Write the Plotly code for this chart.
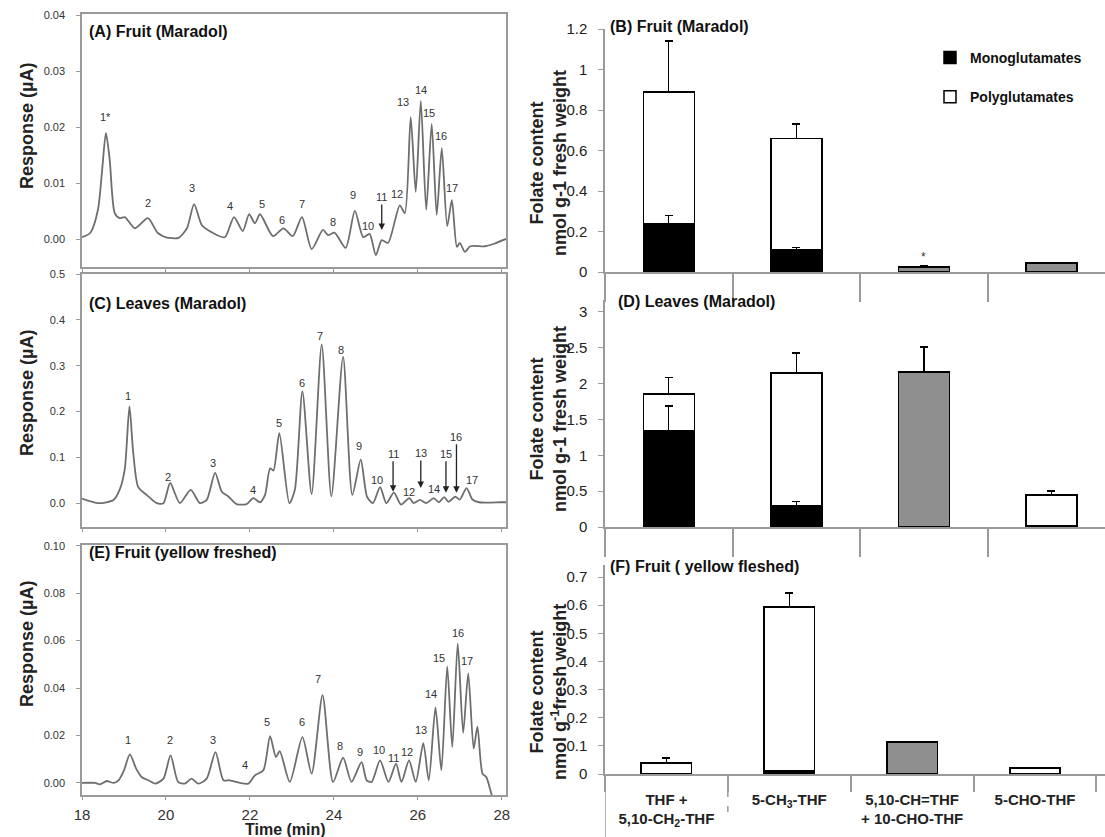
import plotly.graph_objects as go

W, H = 1105, 837
FONT = "Arial, Liberation Sans, sans-serif"

# ---------------- chromatogram traces (time in min, response in µA) ----------------
A_time = [18.0, 18.2, 18.38, 18.48, 18.57, 18.66, 18.78, 18.9, 19.02, 19.26, 19.57, 19.8, 20.0, 20.3,
          20.5, 20.67, 20.85, 21.0, 21.4, 21.62, 21.83, 21.98, 22.12, 22.24, 22.55, 22.8, 23.02, 23.24,
          23.47, 23.74, 23.86, 24.02, 24.28, 24.5, 24.7, 24.85, 25.0, 25.14, 25.29, 25.57, 25.69, 25.83,
          25.95, 26.07, 26.2, 26.33, 26.45, 26.57, 26.7, 26.81, 26.93, 27.0, 27.12, 27.25, 27.6, 27.8, 28.1]
A_resp = [0.0004, 0.0012, 0.0053, 0.0124, 0.0190, 0.0142, 0.0047, 0.0038, 0.0040, 0.0020, 0.0038, 0.0012,
          0.0004, 0.0003, 0.0020, 0.0063, 0.0026, 0.0017, 0.0004, 0.0040, 0.0015, 0.0045, 0.0029, 0.0045,
          0.0006, 0.0020, 0.0006, 0.0040, -0.0017, 0.0017, 0.0008, 0.0012, -0.0015, 0.0051, 0.0004, 0.0010,
          -0.0028, -0.0001, -0.0006, 0.0061, 0.0047, 0.0218, 0.0085, 0.0247, 0.0053, 0.0206, 0.0044, 0.0163,
          0.0024, 0.0070, -0.0013, -0.0006, -0.0022, -0.0012, -0.0012, -0.0008, 0.0001]

C_time = [18.0, 18.39, 18.75, 18.9, 19.02, 19.13, 19.22, 19.34, 19.54, 19.78, 19.94, 20.1, 20.33, 20.59,
          20.81, 20.97, 21.17, 21.33, 21.48, 21.68, 21.92, 22.08, 22.24, 22.36, 22.48, 22.56, 22.7, 22.94,
          23.07, 23.25, 23.47, 23.71, 23.94, 24.22, 24.44, 24.64, 24.79, 24.93, 25.1, 25.25, 25.43, 25.6,
          25.8, 25.9, 26.05, 26.2, 26.38, 26.5, 26.63, 26.73, 26.89, 27.0, 27.16, 27.3, 27.46, 27.98, 28.1]
C_resp = [0.010, 0.0, 0.007, 0.030, 0.075, 0.211, 0.110, 0.035, 0.018, 0.0, 0.0, 0.044, 0.0, 0.029,
          0.0, 0.007, 0.066, 0.025, 0.015, -0.002, -0.002, 0.011, 0.002, 0.018, 0.076, 0.071, 0.153, 0.0,
          0.029, 0.244, 0.020, 0.346, 0.015, 0.319, 0.018, 0.095, 0.014, 0.0, 0.035, 0.0, 0.023, -0.003,
          0.011, 0.0, 0.007, 0.0, 0.011, 0.002, 0.013, 0.003, 0.014, 0.008, 0.033, 0.008, 0.002, 0.002, 0.002]

E_time = [18.0, 18.31, 18.43, 18.59, 18.75, 18.87, 19.0, 19.14, 19.29, 19.42, 19.58, 19.74, 19.94, 20.11,
          20.29, 20.45, 20.61, 20.77, 20.97, 21.18, 21.37, 21.52, 21.76, 21.96, 22.12, 22.32, 22.48, 22.62,
          22.71, 22.95, 23.25, 23.47, 23.73, 23.98, 24.22, 24.42, 24.66, 24.78, 24.9, 25.1, 25.3, 25.48,
          25.61, 25.79, 25.95, 26.13, 26.26, 26.42, 26.56, 26.7, 26.82, 26.95, 27.08, 27.2, 27.33, 27.42,
          27.54, 27.63, 27.75, 27.82]
E_resp = [0.0, 0.0, -0.0006, 0.0008, 0.0, 0.0011, 0.0053, 0.0120, 0.0060, 0.0025, 0.0011, -0.0003, 0.0018,
          0.0116, 0.0004, -0.0003, 0.0018, -0.0003, 0.0018, 0.0130, 0.0011, 0.0011, 0.0, -0.0003, 0.0032,
          0.0053, 0.0197, 0.0109, 0.0134, 0.0004, 0.0193, 0.0039, 0.0370, 0.0004, 0.0106, 0.0004, 0.0088,
          0.0011, 0.0004, 0.0095, 0.0004, 0.0081, 0.0004, 0.0095, 0.0004, 0.0168, 0.0011, 0.0318, 0.0053,
          0.0491, 0.0151, 0.0588, 0.0211, 0.0462, 0.0144, 0.0237, 0.0039, 0.0025, -0.0045, -0.0090]

# peak labels (text, time, response at label centre)
A_lab_txt = ["1*", "2", "3", "4", "5", "6", "7", "8", "9", "10", "12", "13", "14", "15", "16", "17"]
A_lab_t = [18.57, 19.57, 20.62, 21.52, 22.29, 22.76, 23.24, 23.98, 24.45, 24.81, 25.5, 25.64, 26.07, 26.26, 26.55, 26.81]
A_lab_y = [0.0218, 0.0065, 0.0092, 0.0060, 0.0063, 0.0035, 0.0063, 0.0031, 0.0079, 0.0024, 0.0081, 0.0245, 0.0267, 0.0225, 0.0184, 0.0092]
A_arrow_txt = ["11"]
A_arrow_t = [25.14]
A_arrow_y = [0.0017]
A_arrow_len = [33]

C_lab_txt = ["1", "2", "3", "4", "5", "6", "7", "8", "9", "10", "12", "14", "17"]
C_lab_t = [19.1, 20.06, 21.13, 22.08, 22.7, 23.23, 23.68, 24.18, 24.6, 25.02, 25.8, 26.38, 27.3]
C_lab_y = [0.233, 0.058, 0.087, 0.029, 0.175, 0.262, 0.364, 0.335, 0.124, 0.051, 0.025, 0.031, 0.051]
C_arrow_txt = ["11", "13", "15", "16"]
C_arrow_t = [25.41, 26.07, 26.67, 26.92]
C_arrow_y = [0.025, 0.033, 0.023, 0.023]
C_arrow_len = [38, 35, 39, 56]

E_lab_txt = ["1", "2", "3", "4", "5", "6", "7", "8", "9", "10", "11", "12", "13", "14", "15", "16", "17"]
E_lab_t = [19.09, 20.1, 21.13, 21.88, 22.4, 23.23, 23.63, 24.14, 24.63, 25.08, 25.43, 25.75, 26.08, 26.31, 26.51, 26.96, 27.18]
E_lab_y = [0.0179, 0.0179, 0.0179, 0.0074, 0.0256, 0.0256, 0.0437, 0.0154, 0.0130, 0.0140, 0.0106, 0.0130, 0.0223, 0.0374, 0.0528, 0.0632, 0.0514]

# ---------------- folate content bars (nmol g-1 fresh weight) ----------------
categories = ["THF +<br>5,10-CH<sub>2</sub>-THF", "5-CH<sub>3</sub>-THF",
              "5,10-CH=THF<br>+ 10-CHO-THF", "5-CHO-THF"]

B_mono = [0.24, 0.11, None, None]
B_mono_err = [0.04, 0.01, 0, 0]
B_poly = [0.65, 0.55, None, None]
B_poly_err = [0.25, 0.07, 0, 0]
B_other = [None, None, 0.025, 0.045]
B_other_err = [0.004, 0.003, 0.004, 0.003]

D_mono = [1.34, 0.29, None, 0.02]
D_mono_err = [0.35, 0.07, 0, 0]
D_poly = [0.515, 1.86, None, 0.43]
D_poly_err = [0.235, 0.28, 0, 0.05]
D_other = [None, None, 2.16, None]
D_other_err = [0, 0, 0.35, 0]

F_mono = [0.002, 0.01, None, 0.0]
F_mono_err = [0, 0.002, 0, 0]
F_poly = [0.037, 0.584, None, 0.021]
F_poly_err = [0.018, 0.05, 0, 0.003]
F_other = [None, None, 0.114, None]
F_other_err = [0, 0, 0, 0]


def fx(px):
    return px / W


def fy(py):
    return 1 - py / H


fig = go.Figure()
LINE = "#6e6e6e"
AX = "#9a9a9a"

for ax, t, r in [("", A_time, A_resp), ("3", C_time, C_resp), ("5", E_time, E_resp)]:
    fig.add_trace(go.Scatter(x=t, y=r, mode="lines", line=dict(color=LINE, width=1.8, shape="spline", smoothing=0.7),
                             xaxis="x" + ax, yaxis="y" + ax, showlegend=False, hoverinfo="skip"))

cat_idx = [0, 1, 2, 3]
for ax, mono, monoe, poly, polye, oth, othe, wdt, show in [
        ("2", B_mono, B_mono_err, B_poly, B_poly_err, B_other, B_other_err, 0.4, True),
        ("4", D_mono, D_mono_err, D_poly, D_poly_err, D_other, D_other_err, 0.4, False),
        ("6", F_mono, F_mono_err, F_poly, F_poly_err, F_other, F_other_err, 0.41, False)]:
    eb = dict(type="data", symmetric=False, color="#000", thickness=1.4, width=4)
    fig.add_trace(go.Bar(x=cat_idx, y=mono, width=wdt, name="<b>Monoglutamates</b>", legendgroup="m",
                         marker=dict(color="#000", line=dict(color="#000", width=1.5)),
                         error_y=dict(array=monoe, arrayminus=[0] * 4, **eb),
                         xaxis="x" + ax, yaxis="y" + ax, showlegend=show, hoverinfo="skip"))
    fig.add_trace(go.Bar(x=cat_idx, y=poly, width=wdt, name="<b>Polyglutamates</b>", legendgroup="p",
                         marker=dict(color="rgba(255,255,255,0)", line=dict(color="#000", width=1.5)),
                         error_y=dict(array=polye, arrayminus=[0] * 4, **eb),
                         xaxis="x" + ax, yaxis="y" + ax, showlegend=show, hoverinfo="skip"))
    fig.add_trace(go.Bar(x=cat_idx, y=oth, width=wdt, name="other",
                         marker=dict(color="#8f8f8f", line=dict(color="#000", width=1.5)),
                         error_y=dict(array=othe, arrayminus=[0] * 4, **eb),
                         xaxis="x" + ax, yaxis="y" + ax, showlegend=False, hoverinfo="skip"))

left_x = [fx(82), fx(506)]
right_x = [fx(605), 1.0]

tickfont_l = dict(family=FONT, size=11, color="#333")
tickfont_r = dict(family=FONT, size=15, color="#222")


def left_axes(ydom, yr, ytv, yfmt, showx):
    xa = dict(domain=left_x, range=[18, 28.1], tickvals=[18, 20, 22, 24, 26, 28], showticklabels=showx,
              ticks="outside", ticklen=3, tickcolor=AX, showline=True, linecolor=AX, linewidth=1.5,
              mirror=True, showgrid=False, zeroline=False, automargin=False, ticklabelstandoff=2,
              tickfont=dict(family=FONT, size=15, color="#333"))
    ya = dict(domain=ydom, range=yr, tickvals=ytv, tickformat=yfmt, ticks="outside", ticklen=4,
              tickcolor=AX, showline=True, linecolor=AX, linewidth=1.5, mirror=True, showgrid=False,
              zeroline=False, tickfont=tickfont_l, ticklabelstandoff=9, automargin=False)
    return xa, ya


def right_axes(ydom, yr, ytv, xr, minor_len, labels):
    xa = dict(domain=right_x, range=xr, showgrid=False, zeroline=False, showline=True, linecolor=AX,
              linewidth=1.5, ticks="", tickvals=cat_idx, ticktext=["<b>" + c + "</b>" for c in categories],
              showticklabels=labels, automargin=False,
              tickfont=dict(family=FONT, size=15, color="#222"), ticklabelstandoff=11,
              minor=dict(ticks="outside", ticklen=minor_len, tickcolor=AX, tickwidth=1.5, tick0=-0.5, dtick=1))
    ya = dict(domain=ydom, range=yr, tickvals=ytv, ticks="outside", ticklen=5, tickcolor=AX,
              showline=True, linecolor=AX, linewidth=1.5, showgrid=False, zeroline=False, automargin=False,
              tickfont=tickfont_r, ticklabelstandoff=8)
    return xa, ya


xa1, ya1 = left_axes([fy(267), fy(14)], [-0.0049, 0.0402], [0, 0.01, 0.02, 0.03, 0.04], ".2f", False)
xa3, ya3 = left_axes([fy(527), fy(274)], [-0.052, 0.5], [0, 0.1, 0.2, 0.3, 0.4, 0.5], ".1f", False)
xa5, ya5 = left_axes([fy(795), fy(545)], [-0.0051, 0.1003], [0, 0.02, 0.04, 0.06, 0.08, 0.10], ".2f", True)
xa2, ya2 = right_axes([fy(272), fy(29)], [0, 1.2], [0, 0.2, 0.4, 0.6, 0.8, 1, 1.2], [-0.5, 3.42], 28, False)
xa4, ya4 = right_axes([fy(527), fy(300)], [0, 3.167], [0, 0.5, 1, 1.5, 2, 2.5, 3], [-0.5, 3.42], 28, False)
xa6, ya6 = right_axes([fy(774), fy(565)], [0, 0.743], [0, 0.1, 0.2, 0.3, 0.4, 0.5, 0.6, 0.7], [-0.5, 3.57], 16, True)

for i, (xa, ya) in enumerate([(xa1, ya1), (xa2, ya2), (xa3, ya3), (xa4, ya4), (xa5, ya5), (xa6, ya6)], start=1):
    s = "" if i == 1 else str(i)
    xa["anchor"] = "y" + s
    ya["anchor"] = "x" + s
    fig.update_layout(**{"xaxis" + s: xa, "yaxis" + s: ya})

ann = []
lab_font = dict(family=FONT, size=11, color="#333")
for ax, txts, ts, ys in [("", A_lab_txt, A_lab_t, A_lab_y), ("3", C_lab_txt, C_lab_t, C_lab_y),
                         ("5", E_lab_txt, E_lab_t, E_lab_y)]:
    for s, t, y in zip(txts, ts, ys):
        ann.append(dict(x=t, y=y, xref="x" + ax, yref="y" + ax, text=s, showarrow=False, font=lab_font,
                        xanchor="center", yanchor="middle"))
for ax, txts, ts, ys, ls in [("", A_arrow_txt, A_arrow_t, A_arrow_y, A_arrow_len),
                             ("3", C_arrow_txt, C_arrow_t, C_arrow_y, C_arrow_len)]:
    for s, t, y, L in zip(txts, ts, ys, ls):
        ann.append(dict(x=t, y=y, xref="x" + ax, yref="y" + ax, text=s, showarrow=True, ax=0, ay=-L,
                        arrowhead=2, arrowsize=1, arrowwidth=1.3, arrowcolor="#222", font=lab_font))

title_font = dict(family=FONT, size=16, color="#111")
for txt, px, py in [("<b>(A) Fruit (Maradol)</b>", 87, 32), ("<b>(C) Leaves (Maradol)</b>", 87, 303),
                    ("<b>(E) Fruit (yellow freshed)</b>", 87, 552), ("<b>(B) Fruit (Maradol)</b>", 608, 26),
                    ("<b>(D) Leaves (Maradol)</b>", 616, 302), ("<b>(F) Fruit ( yellow fleshed)</b>", 608, 566)]:
    ann.append(dict(x=fx(px), y=fy(py), xref="paper", yref="paper", text=txt, showarrow=False,
                    xanchor="left", yanchor="middle", font=title_font))

for py in [126, 393, 644]:
    ann.append(dict(x=fx(27), y=fy(py), xref="paper", yref="paper", text="<b>Response (µA)</b>",
                    showarrow=False, textangle=-90, xanchor="center", yanchor="middle",
                    font=dict(family=FONT, size=18, color="#222")))

for txt, py in [("<b>Folate content<br>nmol g-1 fresh weight</b>", 163),
                ("<b>Folate content<br>nmol g-1 fresh weight</b>", 419),
                ("<b>Folate content<br>nmol g<sup>-1</sup>fresh weight</b>", 692)]:
    ann.append(dict(x=fx(548), y=fy(py), xref="paper", yref="paper", text=txt, showarrow=False,
                    textangle=-90, xanchor="center", yanchor="middle",
                    font=dict(family=FONT, size=18, color="#222")))

ann.append(dict(x=fx(285), y=fy(829), xref="paper", yref="paper", text="<b>Time (min)</b>", showarrow=False,
                xanchor="center", yanchor="middle", font=dict(family=FONT, size=16, color="#222")))
ann.append(dict(x=2, y=0.075, xref="x2", yref="y2", text="*", showarrow=False,
                font=dict(family=FONT, size=12, color="#333")))

shapes = [
    dict(type="line", xref="x6", yref="paper", x0=-0.5, x1=-0.5, y0=fy(774), y1=0, line=dict(color=AX, width=1.5)),
    dict(type="line", xref="x6", yref="paper", x0=0.5, x1=0.5, y0=fy(788), y1=fy(812),
         line=dict(color=AX, width=1.5, dash="dash")),
]

fig.update_layout(
    template="none",
    width=W, height=H, margin=dict(l=0, r=0, t=0, b=0, autoexpand=False), paper_bgcolor="white",
    plot_bgcolor="white", barmode="stack", annotations=ann, shapes=shapes,
    font=dict(family=FONT, color="#222"),
    legend=dict(x=fx(930), y=fy(42), xanchor="left", yanchor="top", bgcolor="rgba(0,0,0,0)",
                font=dict(family=FONT, size=14, color="#111"), tracegroupgap=18, traceorder="grouped",
                itemwidth=30),
)

fig.write_html("out.html", config={"displayModeBar": False},
               post_script="document.body.style.margin='0px';document.body.style.padding='0px';")
